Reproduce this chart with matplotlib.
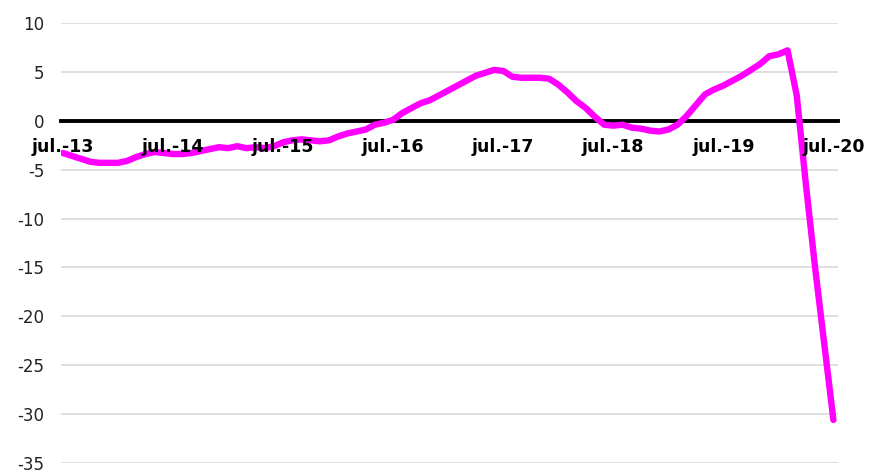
# Monthly index, Jul-13 .. Jul-20
import numpy as np
import matplotlib.pyplot as plt

values = [-3.3, -3.6, -3.9, -4.2, -4.3, -4.3, -4.3, -4.1, -3.7, -3.4,
          -3.2, -3.3, -3.4, -3.4, -3.3, -3.1, -2.9, -2.7, -2.8, -2.6,
          -2.8, -2.7, -2.8, -2.6, -2.2, -2.0, -1.9, -2.0, -2.1, -2.0,
          -1.6, -1.3, -1.1, -0.9, -0.4, -0.2, 0.1, 0.8, 1.3, 1.8,
          2.1, 2.6, 3.1, 3.6, 4.1, 4.6, 4.9, 5.2, 5.1, 4.5,
          4.4, 4.4, 4.4, 4.3, 3.7, 2.9, 2.0, 1.3, 0.4, -0.4,
          -0.5, -0.4, -0.7, -0.8, -1.0, -1.1, -0.9, -0.4, 0.5, 1.6,
          2.7, 3.2, 3.6, 4.1, 4.6, 5.2, 5.8, 6.6, 6.8, 7.2,
          2.6, -6.5, -15.0, -22.8, -30.6]
tick_labels = ['jul.-13', 'jul.-14', 'jul.-15', 'jul.-16',
               'jul.-17', 'jul.-18', 'jul.-19', 'jul.-20']
y_ticks = [10, 5, 0, -5, -10, -15, -20, -25, -30, -35]

plt.rcParams['font.family'] = ['DejaVu Sans']

fig = plt.figure(figsize=(8.69, 4.73), dpi=100)
ax = fig.add_axes([61/869, 1 - 463/473, (838 - 61)/869, (463 - 23)/473])

# light gridlines (drawn by hand so the labels can sit above the line)
for yv in y_ticks:
    if yv != 0:
        ax.axhline(yv, color='#d9d9d9', lw=1.2, zorder=0)

x = np.arange(len(values))
ax.plot(x, values, color='#ff00ff', lw=4.6, solid_capstyle='round',
        solid_joinstyle='round', zorder=2.2)

ax.set_xlim(-0.22, 84.5)
ax.set_ylim(-35, 10)
ax.set_yticks(y_ticks)
ax.set_yticklabels([str(v) for v in y_ticks])
ax.set_xticks(np.arange(0, len(values), 12))
ax.set_xticklabels(tick_labels)
ax.set_axisbelow(False)

for s in ['top', 'right', 'left']:
    ax.spines[s].set_visible(False)
ax.spines['bottom'].set_position(('data', 0))
ax.spines['bottom'].set_linewidth(2.8)
ax.spines['bottom'].set_color('black')
ax.spines['bottom'].set_zorder(2)
ax.tick_params(axis='x', length=0, pad=12.5, labelsize=12.5)
ax.tick_params(axis='y', length=0, pad=12, labelsize=12, labelcolor='#222222')
for lab in ax.get_xticklabels():
    lab.set_fontweight('bold')

fig.savefig('out.png', dpi=100)
